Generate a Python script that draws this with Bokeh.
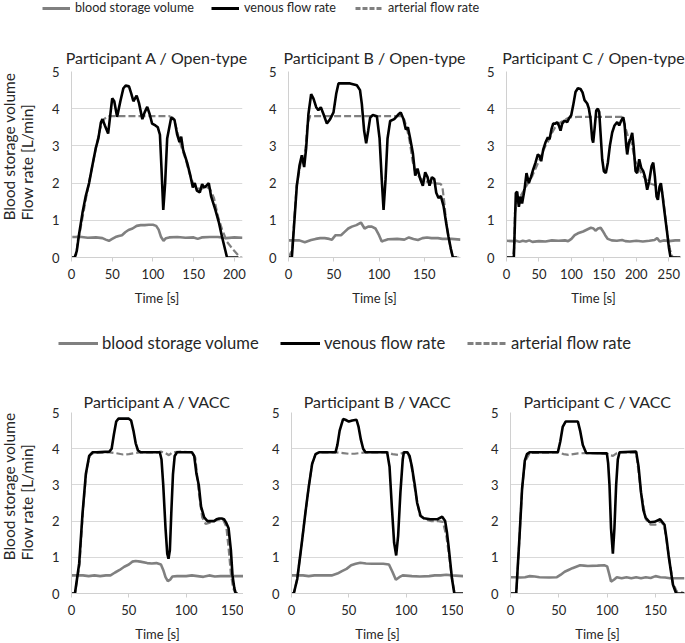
from bokeh.plotting import figure
from bokeh.layouts import column, row
from bokeh.models import Legend, LegendItem, Range1d, FixedTicker
from bokeh.core.properties import value
from bokeh.embed import file_html
from bokeh.resources import INLINE

FONT = "Lato"
TXT = "#262626"
GRAY = "#808080"

# ---------------- legend / labels ----------------
series_labels = ["blood storage volume", "venous flow rate", "arterial flow rate"]
y_label_lines = ["Blood storage volume [L]", "Flow rate [L/min]"]
x_label = "Time [s]"
y_ticks = [0, 1, 2, 3, 4, 5]

# ---------------- Participant A / Open-type ----------------
A_open_t_ven = [0, 4, 6.5, 9.4, 13.5, 17.5, 21.6, 25.7, 29.8, 33, 36, 38, 41, 45, 48, 50, 52.5, 56, 60, 63.7, 66.5,
                70.6, 73.5, 76, 80, 82.9, 87, 89.8, 93, 96, 99, 103, 106, 108.6, 110.5, 112.7, 115, 117.5, 122.4,
                126.5, 129.8, 132.6, 134.7, 137, 142, 146, 149, 151.4, 154, 157.6, 160.4, 163, 165.7, 168.6, 171.4,
                176.7, 180.8, 184.9, 189, 191, 205]
A_open_ven = [0, 0, 0.18, 0.64, 1.2, 1.65, 2.0, 2.48, 2.94, 3.2, 3.62, 3.72, 3.55, 3.33, 3.9, 4.28, 4.2, 3.78, 4.2, 4.55,
              4.62, 4.6, 4.4, 4.2, 4.35, 4.15, 3.72, 3.9, 4.05, 3.85, 3.6, 3.55, 3.5, 3.3, 2.4, 1.28, 2.0, 3.2, 3.76,
              3.7, 3.3, 3.1, 3.25, 2.9, 2.55, 2.2, 1.88, 2.0, 1.8, 1.75, 1.97, 1.88, 1.93, 2.0, 1.65, 1.28, 0.96, 0.55,
              0.18, 0, 0]
A_open_t_art = [0, 3, 6, 8, 10, 15, 20, 25, 30, 35, 40, 45, 60, 80, 100, 120, 125, 128, 132, 136, 140, 145, 150, 155,
                160, 165, 170, 175, 180, 185, 191, 199, 207, 210]
A_open_art = [0, 0, 0.1, 0.5, 0.65, 1.25, 1.85, 2.4, 2.95, 3.45, 3.72, 3.8, 3.8, 3.8, 3.8, 3.8, 3.75, 3.55, 3.2, 2.9,
              2.65, 2.25, 1.95, 1.85, 1.85, 1.9, 1.85, 1.6, 1.1, 0.75, 0.42, 0.2, 0, 0]
A_open_t_bsv = [1, 5, 10, 20, 30, 38, 42, 46, 50, 54, 58, 62, 66, 70, 75, 80, 85, 90, 95, 100, 104, 107, 110, 113,
                116, 120, 130, 140, 150, 155, 160, 170, 180, 190, 200, 210]
A_open_bsv = [0.55, 0.55, 0.56, 0.53, 0.54, 0.52, 0.48, 0.45, 0.5, 0.55, 0.58, 0.6, 0.68, 0.74, 0.78, 0.85, 0.87,
              0.87, 0.88, 0.88, 0.85, 0.75, 0.55, 0.45, 0.52, 0.54, 0.55, 0.53, 0.54, 0.5, 0.54, 0.55, 0.55, 0.52,
              0.54, 0.53]

# ---------------- Participant B / Open-type ----------------
B_open_t_ven = [0, 3.7, 9.2, 12.2, 14.7, 17.3, 19.5, 22, 25, 27.6, 30.6, 33, 35.7, 38.7, 42.4, 46, 49.7, 52.7, 55.2,
                59, 68, 75.5, 79, 81, 83.6, 85.8, 88, 90.2, 93.2, 97.6, 100.6, 103, 105, 107.2, 109.4, 112.3, 116.8,
                121.5, 124, 127, 129.6, 131.9, 134.4, 137.4, 140, 142.5, 145.5, 148.4, 151, 153.6, 155.8, 158.4, 161,
                163.2, 165.7, 168.3, 171.3, 174.2, 176.8, 179.4, 181.6, 186]
B_open_ven = [0, 0, 1.93, 2.48, 2.75, 2.43, 2.94, 3.85, 4.39, 4.27, 4.04, 3.96, 4.04, 3.85, 3.6, 3.72, 3.9, 4.4, 4.68,
              4.68, 4.68, 4.63, 4.5, 4.13, 3.4, 3.07, 3.4, 3.76, 3.83, 3.8, 3.2, 2.1, 1.28, 2.1, 3.2, 3.67, 3.72, 3.85,
              3.9, 3.72, 3.44, 3.5, 3.2, 2.8, 2.2, 2.39, 2.11, 1.93, 2.29, 2.16, 1.93, 2.16, 2.11, 1.74, 1.6, 1.65,
              1.38, 0.92, 0.55, 0.23, 0, 0]
B_open_t_art = [0, 4, 9, 14, 17, 19, 21, 24, 60, 100, 125, 128, 131, 134, 137, 140, 145, 150, 160, 168, 170, 172, 174,
                177, 180, 182, 188]
B_open_art = [0, 0.2, 1.93, 2.6, 2.6, 3.0, 3.6, 3.8, 3.8, 3.8, 3.8, 3.7, 3.45, 3.1, 2.6, 2.3, 2.15, 2.05, 2.0, 1.98,
              1.9, 1.5, 1.0, 0.5, 0.15, 0, 0]
B_open_t_bsv = [0, 12, 18, 25, 30, 35, 40, 45, 48, 52, 58, 62, 66, 70, 75, 80, 84, 88, 92, 96, 100, 103, 106, 110,
                120, 128, 133, 138, 143, 148, 153, 158, 165, 170, 180, 190]
B_open_bsv = [0.46, 0.46, 0.41, 0.47, 0.5, 0.52, 0.52, 0.5, 0.48, 0.6, 0.6, 0.69, 0.78, 0.83, 0.87, 0.94, 0.78, 0.83,
              0.83, 0.78, 0.6, 0.43, 0.46, 0.49, 0.5, 0.48, 0.54, 0.5, 0.47, 0.52, 0.54, 0.52, 0.52, 0.5, 0.5, 0.48]

# ---------------- Participant C / Open-type ----------------
C_open_t_ven = [0, 11.3, 12.8, 14.4, 16.4, 19, 21.6, 24, 27.7, 30.8, 34.4, 38, 41, 44.7, 48.3, 50.8, 53.4, 56.5, 60,
                63.7, 66.3, 69.3, 71.9, 75.5, 78, 80.6, 83.2, 85.8, 89.4, 93.5, 96.6, 99.6, 102.7, 106.3, 109.9, 114,
                117.1, 120.2, 124.3, 126.9, 129.4, 132, 133.5, 135.6, 138.2, 140.7, 142.8, 144.8, 147.4, 150, 153,
                156.1, 159.2, 162.8, 166.4, 170.5, 173.6, 176.7, 179.8, 181.8, 184.4, 185.9, 188.5, 191, 193.6,
                195.7, 198.8, 201.3, 204.4, 207.5, 210.6, 213.1, 216.7, 219.8, 223.4, 226, 228.5, 231.1, 233.2,
                235.8, 237.8, 239.9, 242.4, 245, 247.6, 250.1, 252.7, 268]
C_open_ven = [0, 0, 0.82, 1.73, 1.77, 1.36, 1.64, 1.45, 1.82, 2.27, 2.0, 2.18, 2.36, 2.55, 2.77, 2.73, 2.59, 2.9, 3.09,
              3.23, 3.18, 3.45, 3.6, 3.6, 3.64, 3.55, 3.41, 3.6, 3.68, 3.64, 3.75, 3.82, 4.09, 4.45, 4.55, 4.53, 4.44,
              4.23, 4.14, 4.0, 3.73, 3.18, 3.09, 3.45, 3.95, 4.0, 3.91, 3.36, 2.64, 2.32, 2.27, 2.55, 3.0, 3.36, 3.55,
              3.64, 3.55, 3.68, 3.77, 3.59, 3.0, 2.77, 3.09, 3.18, 3.35, 3.0, 2.32, 2.27, 2.64, 2.41, 2.32, 2.18,
              1.82, 2.05, 2.45, 2.55, 2.18, 1.64, 1.55, 1.91, 2.0, 1.73, 1.36, 1.0, 0.64, 0.27, 0, 0]
C_open_t_art = [0, 10, 12, 13, 16, 20, 25, 30, 35, 40, 45, 50, 55, 60, 65, 70, 75, 80, 85, 90, 95, 100, 110, 178, 183,
                188, 193, 198, 205, 212, 220, 228, 235, 240, 244, 248, 252, 256, 268]
C_open_art = [0, 0, 0.3, 1.2, 1.55, 1.6, 1.75, 1.9, 2.05, 2.2, 2.4, 2.6, 2.8, 3.0, 3.15, 3.35, 3.5, 3.6, 3.65, 3.7,
              3.75, 3.77, 3.78, 3.78, 3.5, 3.2, 3.05, 2.6, 2.35, 2.15, 2.0, 1.95, 1.9, 1.75, 1.2, 0.6, 0.2, 0, 0]
C_open_t_bsv = [0, 10, 15, 20, 25, 30, 35, 40, 50, 60, 70, 80, 90, 95, 100, 105, 110, 118, 125, 130, 134, 137, 141,
                145, 148, 152, 156, 162, 170, 178, 183, 190, 200, 210, 220, 228, 232, 236, 242, 250, 260, 268]
C_open_bsv = [0.45, 0.44, 0.45, 0.42, 0.45, 0.43, 0.46, 0.42, 0.44, 0.43, 0.46, 0.45, 0.46, 0.44, 0.5, 0.6, 0.65, 0.7,
              0.76, 0.8, 0.78, 0.72, 0.78, 0.8, 0.72, 0.6, 0.5, 0.46, 0.45, 0.47, 0.44, 0.43, 0.45, 0.43, 0.45, 0.47,
              0.52, 0.43, 0.46, 0.44, 0.46, 0.46]

# ---------------- Participant A / VACC ----------------
A_vacc_t_ven = [0, 3, 6.7, 9.6, 12.5, 15.4, 18.3, 22, 33, 35, 37, 39, 41, 50, 52, 54, 56, 58, 60.5, 77, 78.5, 80, 82,
                83.5, 84.6, 85.8, 87, 88.5, 90, 92, 105, 107, 109, 111, 113, 115.7, 118.6, 124.4, 126.5, 128.8, 131,
                133, 135, 137, 139, 140.4, 142, 143.3, 145]
A_vacc_ven = [0, 0, 0.83, 2.2, 3.3, 3.8, 3.9, 3.9, 3.92, 4.0, 4.4, 4.75, 4.83, 4.83, 4.78, 4.5, 4.15, 3.95, 3.9, 3.9,
              3.7, 3.0, 1.8, 1.1, 0.96, 1.2, 2.2, 3.3, 3.8, 3.9, 3.9, 3.8, 3.3, 3.0, 2.4, 2.1, 2.0, 2.0, 2.05, 2.07,
              2.07, 2.05, 1.95, 1.8, 1.2, 0.5, 0.15, 0, 0]
A_vacc_t_art = [0, 3, 7, 10, 13, 16, 19, 33, 38, 45, 50, 55, 60, 75, 78, 82, 85, 88, 95, 105, 108, 111, 114, 117, 120,
                124, 128, 132, 135, 137, 139, 141, 143]
A_vacc_art = [0, 0, 0.8, 2.3, 3.4, 3.82, 3.88, 3.9, 3.88, 3.84, 3.85, 3.88, 3.9, 3.9, 3.92, 3.88, 3.82, 3.9, 3.92, 3.9,
              3.75, 2.8, 2.1, 1.92, 1.95, 2.0, 2.04, 2.05, 1.85, 1.25, 0.55, 0.15, 0]
A_vacc_t_bsv = [0, 10, 15, 20, 25, 30, 34, 38, 42, 46, 50, 53, 56, 60, 66, 70, 74, 78, 80, 82, 84, 86, 88, 92, 100,
                105, 110, 115, 120, 125, 130, 140, 150]
A_vacc_bsv = [0.5, 0.5, 0.48, 0.5, 0.48, 0.5, 0.5, 0.58, 0.65, 0.74, 0.8, 0.88, 0.9, 0.88, 0.84, 0.83, 0.84, 0.8, 0.65,
              0.45, 0.34, 0.38, 0.47, 0.48, 0.48, 0.5, 0.48, 0.46, 0.5, 0.47, 0.48, 0.48, 0.48]

# ---------------- Participant B / VACC ----------------
B_vacc_t_ven = [0, 2, 5, 9, 12, 15, 18, 21, 24, 38.4, 40, 42, 45, 47, 50, 53, 56.7, 58.5, 60.5, 62.5, 64.5, 83.4, 85.5,
                87.5, 89.5, 91.3, 93, 95, 97, 98, 101, 103, 105, 107.5, 109.6, 112.5, 115.4, 121, 127, 131.4, 134, 135.5,
                137, 140, 142, 150]
B_vacc_ven = [0, 0, 0.4, 1.4, 2.2, 2.94, 3.58, 3.85, 3.9, 3.9, 4.1, 4.5, 4.82, 4.8, 4.75, 4.78, 4.8, 4.6, 4.25, 4.0,
              3.9, 3.9, 3.5, 2.4, 1.4, 1.05, 1.6, 2.8, 3.7, 3.9, 3.9, 3.8, 3.5, 3.0, 2.5, 2.15, 2.08, 2.05, 2.05, 2.12,
              2.0, 1.7, 1.3, 0.4, 0, 0]
B_vacc_t_art = [0, 2, 5, 9, 12, 15, 18, 21, 24, 38, 45, 50, 55, 60, 65, 84, 88, 93, 98, 101, 104, 108, 112, 116, 122,
                128, 132, 135, 138, 140, 142, 143]
B_vacc_art = [0, 0, 0.4, 1.4, 2.2, 2.94, 3.58, 3.85, 3.9, 3.9, 3.88, 3.86, 3.86, 3.88, 3.9, 3.9, 3.85, 3.83, 3.9, 3.9,
              3.65, 2.8, 2.15, 2.05, 2.0, 2.0, 1.98, 1.6, 0.9, 0.4, 0.05, 0]
B_vacc_t_bsv = [0, 10, 15, 20, 25, 30, 35, 40, 44, 48, 52, 56, 60, 65, 70, 75, 80, 85, 88, 91, 94, 97, 105, 112, 120,
                125, 130, 135, 140, 150]
B_vacc_bsv = [0.5, 0.5, 0.48, 0.5, 0.5, 0.5, 0.5, 0.55, 0.62, 0.68, 0.78, 0.82, 0.85, 0.83, 0.82, 0.82, 0.82, 0.8,
              0.6, 0.38, 0.45, 0.5, 0.48, 0.47, 0.48, 0.5, 0.5, 0.52, 0.5, 0.48]

# ---------------- Participant C / VACC ----------------
C_vacc_t_ven = [0, 5.9, 9.3, 12, 14.8, 17, 19.7, 49, 51.5, 54, 57, 69.7, 72, 74.8, 78.3, 99.7, 101, 102.4, 104, 105.9,
                107.5, 109.3, 111, 112.8, 130, 132.5, 135, 137.5, 139.7, 143.8, 149, 154.8, 159.3, 161.5, 163.8, 168,
                171.4, 180]
C_vacc_ven = [0, 0, 1.56, 2.9, 3.67, 3.85, 3.9, 3.9, 4.2, 4.6, 4.75, 4.75, 4.5, 4.1, 3.88, 3.87, 3.6, 3.0, 1.8, 1.1,
              1.8, 3.0, 3.7, 3.9, 3.92, 3.5, 2.8, 2.3, 2.1, 1.97, 1.98, 2.05, 1.9, 1.5, 1.0, 0.25, 0, 0]
C_vacc_t_art = [0, 6, 9, 12, 15, 20, 49, 55, 60, 65, 70, 78, 100, 103, 106, 110, 113, 130, 135, 140, 145, 150, 155,
                159, 164, 168, 172, 176, 180]
C_vacc_art = [0, 0, 1.4, 2.9, 3.65, 3.88, 3.9, 3.85, 3.83, 3.85, 3.87, 3.88, 3.87, 3.82, 3.8, 3.88, 3.9, 3.9, 2.8, 2.05,
              1.9, 1.9, 2.0, 1.88, 1.0, 0.3, 0.05, 0.05, 0]
C_vacc_t_bsv = [0, 5, 10, 15, 20, 25, 30, 40, 48, 52, 56, 60, 64, 68, 72, 76, 80, 90, 97, 100, 102, 104, 107, 110, 115,
                120, 125, 130, 135, 140, 145, 150, 155, 160, 165, 170, 180]
C_vacc_bsv = [0.45, 0.45, 0.44, 0.45, 0.48, 0.47, 0.45, 0.44, 0.45, 0.52, 0.6, 0.65, 0.7, 0.74, 0.78, 0.77, 0.76, 0.77,
              0.78, 0.75, 0.55, 0.33, 0.38, 0.45, 0.42, 0.45, 0.42, 0.45, 0.42, 0.45, 0.43, 0.48, 0.45, 0.44, 0.42,
              0.42, 0.42]

panel_titles = ["Participant A / Open-type", "Participant B / Open-type", "Participant C / Open-type",
                "Participant A / VACC", "Participant B / VACC", "Participant C / VACC"]
x_max = [210, 190, 268, 150, 150, 180]
x_ticks = [[0, 50, 100, 150, 200], [0, 50, 100, 150], [0, 50, 100, 150, 200, 250],
           [0, 50, 100, 150], [0, 50, 100, 150], [0, 50, 100, 150]]


def style_text(p):
    for ax in (p.xaxis[0], p.yaxis[0]):
        ax.major_label_text_font = FONT
        ax.major_label_text_font_size = "13px"
        ax.major_label_text_color = TXT
        ax.axis_label_text_font = FONT
        ax.axis_label_text_font_style = "normal"
        ax.axis_label_text_color = TXT
        ax.minor_tick_line_color = None
        ax.axis_line_color = "#d0d0d0"
        ax.major_tick_line_color = "#d0d0d0"


def panel(i, tv, vv, ta, va, tb, vb, fw, fh, bl, br, bt, bb, tstand):
    p = figure(frame_width=fw, frame_height=fh, min_border_left=bl, min_border_right=br,
               min_border_top=bt, min_border_bottom=bb,
               x_range=Range1d(0, x_max[i]), y_range=Range1d(0, 5),
               toolbar_location=None, output_backend="svg", title=panel_titles[i])
    p.outline_line_color = None
    p.background_fill_color = "white"
    p.title.text_font = FONT
    p.title.text_font_size = "16px"
    p.title.text_font_style = "normal"
    p.title.text_color = TXT
    p.title.align = "center"
    p.title.standoff = tstand
    p.xgrid.grid_line_color = None
    p.ygrid.grid_line_color = "#d9d9d9"
    p.ygrid.grid_line_width = 1
    p.xaxis.ticker = FixedTicker(ticks=x_ticks[i])
    p.yaxis.ticker = FixedTicker(ticks=y_ticks)
    p.xaxis.axis_label = x_label
    p.xaxis.axis_label_text_font_size = "13px"
    style_text(p)
    p.xaxis.major_tick_out = 4
    p.xaxis.major_tick_in = 0
    p.xaxis.major_label_standoff = 7
    p.xaxis.axis_label_standoff = 8
    p.yaxis.major_tick_out = 0
    p.yaxis.major_tick_in = 0
    p.yaxis.major_label_standoff = 12
    p.line(tb, vb, line_color=GRAY, line_width=2.6)
    p.line(ta, va, line_color=GRAY, line_width=2.2, line_dash="7 3")
    p.line(tv, vv, line_color="black", line_width=2.6)
    return p


def ylabel_fig(w, h, y0):
    # narrow canvas holding the two-line vertical axis title (pixel data space)
    p = figure(width=w, height=h, min_border=0, toolbar_location=None, output_backend="svg",
               x_range=Range1d(0, w), y_range=Range1d(0, h), x_axis_type=None, y_axis_type=None)
    p.outline_line_color = None
    p.grid.visible = False
    p.text(x=[8.5, 26.7], y=[y0, y0], text=y_label_lines, angle=90, angle_units="deg",
           text_align="left", text_baseline="middle", text_font=value(FONT),
           text_font_size="15.5px", text_color=TXT)
    return p


def legend_fig(h, starts, yb, glyph_w, standoff, fsize, lh, lw, dash):
    p = figure(width=685, height=h, min_border=0, toolbar_location=None, output_backend="svg",
               x_range=Range1d(0, 1), y_range=Range1d(0, 1), x_axis_type=None, y_axis_type=None)
    p.outline_line_color = None
    p.grid.visible = False
    # legend proxies placed outside the visible range
    r1 = p.line([5, 6], [5, 5], line_color=GRAY, line_width=lw)
    r2 = p.line([5, 6], [5, 5], line_color="black", line_width=lw)
    r3 = p.line([5, 6], [5, 5], line_color=GRAY, line_width=lw, line_dash=dash)
    for x0, lab, r in zip(starts, series_labels, (r1, r2, r3)):
        lg = Legend(items=[LegendItem(label=lab, renderers=[r])], location=(x0, yb),
                    orientation="horizontal", padding=0, margin=0, border_line_alpha=0,
                    background_fill_alpha=0, glyph_width=glyph_w, glyph_height=lh, label_height=lh,
                    label_standoff=standoff, label_text_font=FONT, label_text_font_size=fsize,
                    label_text_color=TXT, spacing=0)
        p.add_layout(lg)
    return p


leg1 = legend_fig(16, [42, 211, 355], 1, 28, 5, "12.6px", 14, 3, "5 2")
leg2 = legend_fig(50, [58, 280, 467], 15, 40, 4, "16.6px", 20, 3.2, "6 2")

yl1 = ylabel_fig(36, 302, 60)
pA = panel(0, A_open_t_ven, A_open_ven, A_open_t_art, A_open_art, A_open_t_bsv, A_open_bsv, 171, 186, 35, 8, 55, 61, 10)
pB = panel(1, B_open_t_ven, B_open_ven, B_open_t_art, B_open_art, B_open_t_bsv, B_open_bsv, 172, 186, 38, 10, 55, 61, 10)
pC = panel(2, C_open_t_ven, C_open_ven, C_open_t_art, C_open_art, C_open_t_bsv, C_open_bsv, 174, 186, 36, 5, 55, 61, 10)

yl2 = ylabel_fig(36, 275, 49)
qA = panel(3, A_vacc_t_ven, A_vacc_ven, A_vacc_t_art, A_vacc_art, A_vacc_t_bsv, A_vacc_bsv, 172, 181, 35, 0, 44, 50, 4)
qB = panel(4, B_vacc_t_ven, B_vacc_ven, B_vacc_t_art, B_vacc_art, B_vacc_t_bsv, B_vacc_bsv, 172, 181, 48, 0, 44, 50, 4)
qC = panel(5, C_vacc_t_ven, C_vacc_ven, C_vacc_t_art, C_vacc_art, C_vacc_t_bsv, C_vacc_bsv, 174, 181, 47, 1, 44, 50, 4)

layout = column(leg1, row(yl1, pA, pB, pC), leg2, row(yl2, qA, qB, qC))

open("out.html", "w").write(file_html(layout, INLINE))
